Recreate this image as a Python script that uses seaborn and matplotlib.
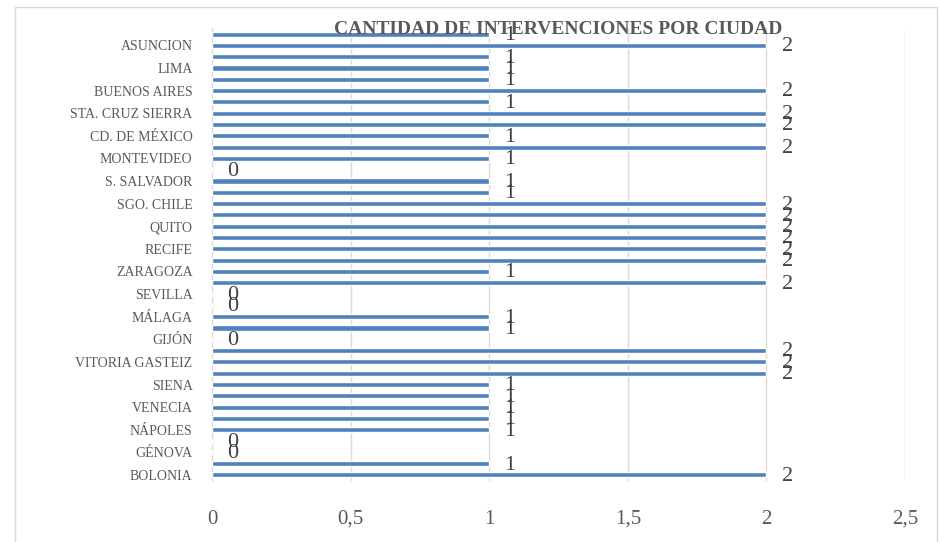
import numpy as np
import pandas as pd
import matplotlib.pyplot as plt
import matplotlib.patches as mpatches
import seaborn as sns

# Ciudades visibles en el eje (de arriba a abajo), Excel muestra una etiqueta cada dos barras
ciudades = ["ASUNCION", "LIMA", "BUENOS AIRES", "STA. CRUZ SIERRA", "CD. DE MÉXICO",
            "MONTEVIDEO", "S. SALVADOR", "SGO. CHILE", "QUITO", "RECIFE",
            "ZARAGOZA", "SEVILLA", "MÁLAGA", "GIJÓN", "VITORIA GASTEIZ",
            "SIENA", "VENECIA", "NÁPOLES", "GÉNOVA", "BOLONIA"]

# Intervenciones por barra (40 barras, de arriba a abajo)
valores = [1, 2, 1, 1, 1, 2, 1, 2, 2, 1,
           2, 1, 0, 1, 1, 2, 2, 2, 2, 2,
           2, 1, 2, 0, 0, 1, 1, 0, 2, 2,
           2, 1, 1, 1, 1, 1, 0, 0, 1, 2]

x_ticks = [0, 0.5, 1, 1.5, 2, 2.5]
x_labels = ["0", "0,5", "1", "1,5", "2", "2,5"]

azul = "#4F81BD"
gris = "#595959"

# una etiqueta en las posiciones 1, 3, 5, ... (desde arriba)
etiquetas = []
k = 0
for i in range(len(valores)):
    if i % 2 == 1:
        etiquetas.append(ciudades[k])
        k += 1
    else:
        etiquetas.append("")

df = pd.DataFrame({"clave": [f"b{i}" for i in range(len(valores))],
                   "valor": valores})

sns.set_style("white")
plt.rcParams["font.family"] = ["Liberation Serif", "DejaVu Serif"]

fig = plt.figure(figsize=(9.39, 5.42), dpi=100)
ax = fig.add_axes([212 / 939, 1 - 480.6 / 542, 693 / 939, 452.2 / 542])

sns.barplot(data=df, y="clave", x="valor", orient="h", color=azul,
            width=0.45, saturation=1, ax=ax, zorder=3)

ax.set_xlim(0, 2.5)
ax.set_xticks(x_ticks)
ax.set_xticklabels(x_labels, fontsize=15, color=gris)
ax.set_yticks(range(len(valores)))
ax.set_yticklabels(etiquetas, fontsize=10, color=gris)
ax.tick_params(axis="x", length=0, pad=21)
ax.tick_params(axis="y", length=0, pad=14)
ax.set_xlabel("")
ax.set_ylabel("")

ax.grid(axis="x", color="#d9d9d9", linewidth=1, zorder=0)
for s in ["top", "right", "bottom"]:
    ax.spines[s].set_visible(False)
ax.spines["left"].set_color("#d9d9d9")

# etiquetas de datos
for i, v in enumerate(valores):
    ax.annotate(str(v), xy=(v, i), xytext=(11, -1), textcoords="offset points",
                ha="left", va="center", fontsize=16, color="#404040", zorder=4)

fig.text(558 / 939, 1 - 30 / 542, "CANTIDAD DE INTERVENCIONES POR CIUDAD",
         ha="center", va="center", fontsize=14, fontweight="bold", color=gris)

# borde del gráfico
fig.patches.append(mpatches.Rectangle((15 / 939, -0.02), 922 / 939, 1.02 - 7 / 542,
                                      transform=fig.transFigure, fill=False,
                                      edgecolor="#d9d9d9", linewidth=1))

fig.savefig("out.png", dpi=100)
